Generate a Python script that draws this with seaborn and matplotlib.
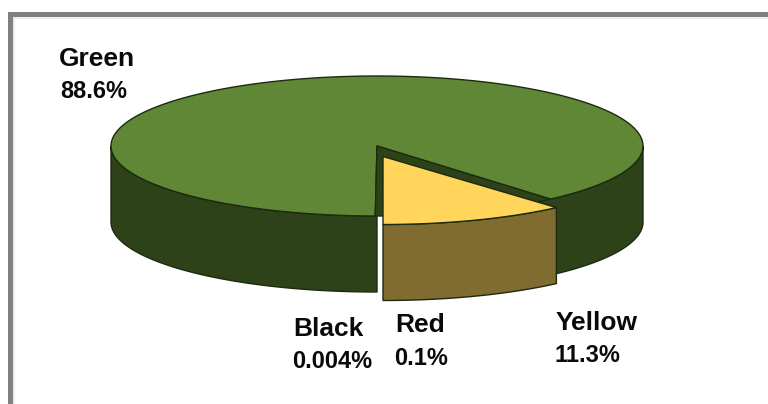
import numpy as np
import matplotlib
matplotlib.use("Agg")
import matplotlib.pyplot as plt
from matplotlib.patches import Rectangle
import seaborn as sns

categories = ["Green", "Yellow", "Red", "Black"]
shares = [88.6, 11.3, 0.1, 0.004]
share_labels = ["88.6%", "11.3%", "0.1%", "0.004%"]

sns.set_theme(style="white")
plt.rcParams["font.family"] = ["Liberation Sans", "DejaVu Sans"]
top_cols = sns.color_palette(["#5F8735", "#FFD55C"])
side_cols = sns.color_palette(["#2E421A", "#806B30"])
EDGE = "#1C2A10"

CX, CY, A, B, DEPTH = 377, 146, 266, 70, 76
OFF = (6, 8.5)

fig = plt.figure(figsize=(7.68, 4.04), dpi=100, facecolor="white")
ax = fig.add_axes([0, 0, 1, 1])
ax.set_xlim(0, 768)
ax.set_ylim(404, 0)
ax.axis("off")

# window frame
ax.add_patch(Rectangle((8, 12), 760, 5, fc="#808080", ec="none"))
ax.add_patch(Rectangle((8, 12), 5, 392, fc="#808080", ec="none"))
ax.add_patch(Rectangle((13, 17), 755, 1.5, fc="#ECECEC", ec="none"))
ax.add_patch(Rectangle((13, 17), 1.5, 387, fc="#ECECEC", ec="none"))


def arc(t0, t1, dx=0, dy=0):
    t = np.radians(np.linspace(t0, t1, 160))
    return CX + dx + A * np.cos(t), CY + dy + B * np.sin(t)


def side(t0, t1, color, dx=0, dy=0, z=2):
    x, y = arc(t0, t1, dx, dy)
    ax.fill(np.r_[x, x[::-1]], np.r_[y, y[::-1] + DEPTH], fc=color, ec=EDGE, lw=1, zorder=z)


def top(t0, t1, color, dx=0, dy=0, z=3):
    x, y = arc(t0, t1, dx, dy)
    ax.fill(np.r_[CX + dx, x], np.r_[CY + dy, y], fc=color, ec=EDGE, lw=1, zorder=z)


total = sum(shares)
deg = [s / total * 360 for s in shares]
yellow_end = 90 - deg[1]          # screen angle, clockwise from the right
notch_end = 90 + deg[2] + deg[3]  # red and black are too thin to show

# green body, with the dark notch the yellow slice was pulled out of
side(0, yellow_end + 8, side_cols[0])
side(90, 180, side_cols[0])
top(notch_end, notch_end + deg[0], top_cols[0])
top(yellow_end, notch_end, side_cols[0], z=4)

# yellow slice, exploded
side(yellow_end, 90, side_cols[1], *OFF, z=5)
x, y = arc(yellow_end, 90, *OFF)
ax.fill(np.r_[CX + OFF[0], x], np.r_[CY + OFF[1] + 2, y], fc=top_cols[1], ec=EDGE, lw=1, zorder=6)

# labels: (x, y) of name, (x, y) of share
name_pos = {"Green": (59, 57), "Yellow": (556, 320), "Red": (395, 323), "Black": (293, 326)}
share_pos = {"Green": (60, 89), "Yellow": (555, 353), "Red": (394, 356), "Black": (292, 359)}
for cat, lab in zip(categories, share_labels):
    ax.text(*name_pos[cat], cat, fontsize=19, fontweight="bold", color="#0A0A0A", ha="left", va="center_baseline")
    ax.text(*share_pos[cat], lab, fontsize=17, fontweight="bold", color="#0A0A0A", ha="left", va="center_baseline")

fig.savefig("out.png", dpi=100)
